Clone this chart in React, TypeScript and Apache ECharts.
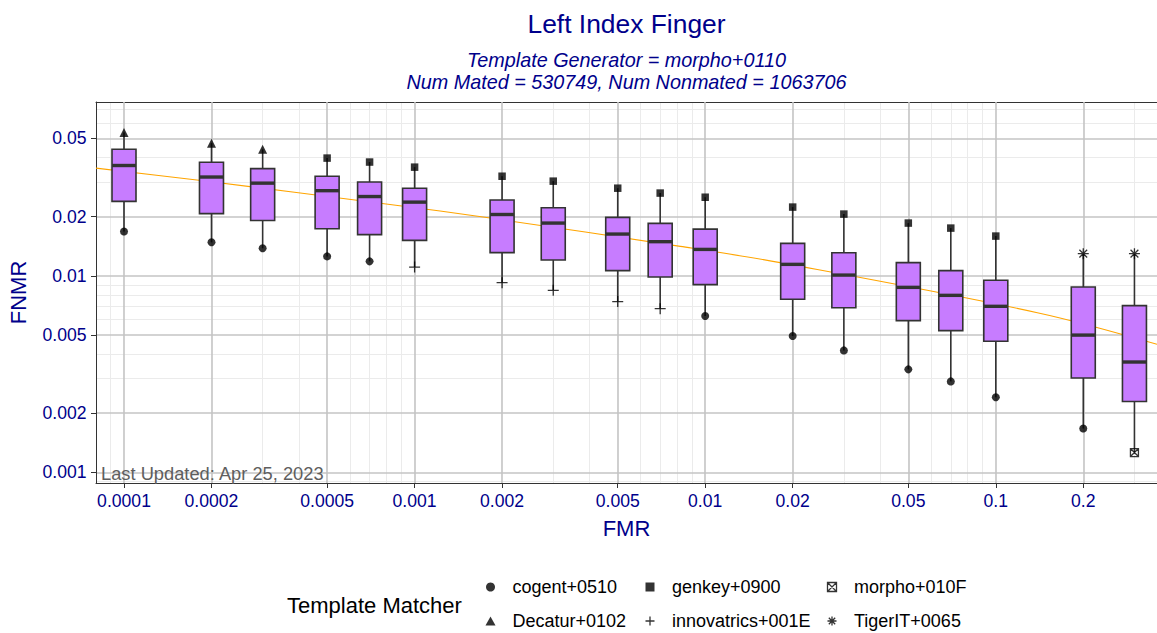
import React, { useEffect, useRef } from 'react';
import * as echarts from 'echarts';

// ---------------- data ----------------
const fmrValues = [0.0001, 0.0002, 0.0003, 0.0005, 0.0007, 0.001, 0.002, 0.003, 0.005, 0.007, 0.01, 0.02, 0.03, 0.05, 0.07, 0.1, 0.2, 0.3];
const fnmrMin = [0.0168, 0.0148, 0.0138, 0.01255, 0.01184, 0.01107, 0.00922, 0.00843, 0.00739, 0.0068, 0.00624, 0.00494, 0.00417, 0.00334, 0.0029, 0.00241, 0.00167, 0.00126];
const fnmrQ1 = [0.0239, 0.0207, 0.0191, 0.01736, 0.0162, 0.01514, 0.01311, 0.01202, 0.01062, 0.00985, 0.00901, 0.00759, 0.00688, 0.00591, 0.00526, 0.00464, 0.00302, 0.00229];
const fnmrMedian = [0.0364, 0.0318, 0.0296, 0.0271, 0.0253, 0.0237, 0.0205, 0.01854, 0.0163, 0.01491, 0.01362, 0.01143, 0.01008, 0.00873, 0.00795, 0.00699, 0.00499, 0.00364];
const fnmrQ3 = [0.044, 0.0378, 0.0351, 0.0321, 0.03, 0.0279, 0.0243, 0.0222, 0.01982, 0.01847, 0.01728, 0.01462, 0.0131, 0.01166, 0.01062, 0.00948, 0.00876, 0.00705];
const fnmrMax = [0.0536, 0.0473, 0.044, 0.0397, 0.0379, 0.0357, 0.0321, 0.0303, 0.0279, 0.02635, 0.0251, 0.02236, 0.0206, 0.01854, 0.01748, 0.01592, 0.01296, 0.01296];

const maxMatcher = [
  'Decatur+0102', 'Decatur+0102', 'Decatur+0102',
  'genkey+0900', 'genkey+0900', 'genkey+0900', 'genkey+0900', 'genkey+0900', 'genkey+0900', 'genkey+0900',
  'genkey+0900', 'genkey+0900', 'genkey+0900', 'genkey+0900', 'genkey+0900', 'genkey+0900',
  'TigerIT+0065', 'TigerIT+0065',
];
const minMatcher = [
  'cogent+0510', 'cogent+0510', 'cogent+0510', 'cogent+0510', 'cogent+0510',
  'innovatrics+001E', 'innovatrics+001E', 'innovatrics+001E', 'innovatrics+001E', 'innovatrics+001E',
  'cogent+0510', 'cogent+0510', 'cogent+0510', 'cogent+0510', 'cogent+0510', 'cogent+0510', 'cogent+0510',
  'morpho+010F',
];
const matchers = ['cogent+0510', 'Decatur+0102', 'genkey+0900', 'innovatrics+001E', 'morpho+010F', 'TigerIT+0065'];
const legendColumns = [
  ['cogent+0510', 'Decatur+0102'],
  ['genkey+0900', 'innovatrics+001E'],
  ['morpho+010F', 'TigerIT+0065'],
];

const trendFmr = [0.0000801, 0.000181, 0.000823, 0.00182, 0.00821, 0.0181, 0.139, 0.3587];
const trendFnmr = [0.0353, 0.0306, 0.02307, 0.01966, 0.01411, 0.01166, 0.00649, 0.00448];

const xTickValues = [0.0001, 0.0002, 0.0005, 0.001, 0.002, 0.005, 0.01, 0.02, 0.05, 0.1, 0.2];
const xTickLabels = ['0.0001', '0.0002', '0.0005', '0.001', '0.002', '0.005', '0.01', '0.02', '0.05', '0.1', '0.2'];
const xMinorValues = [0.00008, 0.00009, 0.0003, 0.0004, 0.0006, 0.0007, 0.0008, 0.0009, 0.003, 0.004, 0.006, 0.007, 0.008, 0.009, 0.03, 0.04, 0.06, 0.07, 0.08, 0.09, 0.3];
const yTickValues = [0.001, 0.002, 0.005, 0.01, 0.02, 0.05];
const yTickLabels = ['0.001', '0.002', '0.005', '0.01', '0.02', '0.05'];
const yMinorValues = [0.0009, 0.003, 0.004, 0.006, 0.007, 0.008, 0.009, 0.03, 0.04, 0.06, 0.07];

const xLimits = [0.0000801, 0.3587];
const yLimits = [0.000882, 0.0766];

// ---------------- styles ----------------
const FONT = '"Liberation Sans", Arial, Helvetica, sans-serif';
const NAVY = '#00008B';
const PLUS = 'path://M0,5L10,5M5,0L5,10';
const AST = 'path://M0,5L10,5M5,0L5,10M1.46,1.46L8.54,8.54M8.54,1.46L1.46,8.54';
const SQX = 'path://M0,0L10,0L10,10L0,10ZM0,0L10,10M10,0L0,10';
const TRI = 'path://M5,0L10,9L0,9Z';
const SQ = 'path://M0,0L10,0L10,10L0,10Z';
const SYMBOLS: Record<string, { symbol: string; icon: string; size: number; filled: boolean }> = {
  'cogent+0510': { symbol: 'circle', icon: 'circle', size: 8, filled: true },
  'Decatur+0102': { symbol: 'triangle', icon: TRI, size: 9, filled: true },
  'genkey+0900': { symbol: 'rect', icon: SQ, size: 7.5, filled: true },
  'innovatrics+001E': { symbol: PLUS, icon: PLUS, size: 11, filled: false },
  'morpho+010F': { symbol: SQX, icon: SQX, size: 8, filled: false },
  'TigerIT+0065': { symbol: AST, icon: AST, size: 11, filled: false },
};
// icon centre x of each legend column; legend box starts at the icon's left edge
const legendIconCentres = [490, 650, 832];
const LEGEND_ICON = 9;
const STROKE_W = 1.3;

const lg = (v: number) => Math.log10(v);

function makeFormatter(vals: number[], labels: string[]) {
  const logs = vals.map(lg);
  return (v: number) => {
    const i = logs.findIndex((t) => Math.abs(t - v) < 1e-6);
    return i >= 0 ? labels[i] : '';
  };
}

function symbolStyle(m: string) {
  const s = SYMBOLS[m];
  return s.filled
    ? { color: '#000', borderWidth: 0 }
    : { color: 'rgba(0,0,0,0)', borderColor: '#000', borderWidth: STROKE_W };
}

export default function App() {
  const ref = useRef<HTMLDivElement>(null);

  useEffect(() => {
    if (!ref.current) return;
    const chart = echarts.init(ref.current, undefined, { renderer: 'svg' });

    const boxData = fmrValues.map((f, i) => [
      lg(f), lg(fnmrMin[i]), lg(fnmrQ1[i]), lg(fnmrMedian[i]), lg(fnmrQ3[i]), lg(fnmrMax[i]),
    ]);

    const scatterSeries = matchers.map((m) => {
      const pts: number[][] = [];
      fmrValues.forEach((f, i) => {
        if (maxMatcher[i] === m) pts.push([lg(f), lg(fnmrMax[i])]);
        if (minMatcher[i] === m) pts.push([lg(f), lg(fnmrMin[i])]);
      });
      return {
        type: 'scatter',
        name: m,
        xAxisIndex: 0,
        yAxisIndex: 0,
        z: 5,
        silent: true,
        symbol: SYMBOLS[m].symbol,
        symbolSize: SYMBOLS[m].size,
        itemStyle: symbolStyle(m),
        data: pts,
      };
    });

    const legends = legendColumns.map((col, ci) => {
      const anyStroke = col.some((m) => !SYMBOLS[m].filled);
      const halfExtent = LEGEND_ICON / 2 + (anyStroke ? STROKE_W / 2 : 0);
      return {
        orient: 'vertical',
        left: legendIconCentres[ci] - halfExtent,
        top: 577,
        padding: 0,
        itemWidth: 34,
        itemHeight: LEGEND_ICON,
        itemGap: 14,
        selectedMode: false,
        textStyle: { fontFamily: FONT, fontSize: 18, color: '#000', lineHeight: 20 },
        data: col.map((m) => ({ name: m, icon: SYMBOLS[m].icon, itemStyle: symbolStyle(m) })),
      };
    });

    const option: any = {
      animation: false,
      backgroundColor: '#fff',
      title: {
        text: 'Left Index Finger',
        subtext: 'Template Generator = morpho+0110\nNum Mated = 530749, Num Nonmated = 1063706',
        left: 626.5,
        textAlign: 'center',
        top: 9,
        padding: 0,
        itemGap: 10,
        textStyle: { fontFamily: FONT, fontSize: 26.4, fontWeight: 'normal', color: NAVY, lineHeight: 30 },
        subtextStyle: { fontFamily: FONT, fontSize: 19.8, fontStyle: 'italic', color: NAVY, lineHeight: 22.2 },
      },
      legend: legends,
      grid: { left: 96, top: 102, right: 0, height: 381, outerBoundsMode: 'none', containLabel: false },
      xAxis: [
        {
          type: 'value',
          min: lg(xLimits[0]),
          max: lg(xLimits[1]),
          position: 'bottom',
          z: 1,
          axisLine: { show: true, onZero: false, lineStyle: { color: '#333', width: 1 } },
          axisTick: { show: true, customValues: xTickValues.map(lg), length: 5, lineStyle: { color: '#333', width: 1 } },
          axisLabel: {
            show: true, customValues: xTickValues.map(lg), formatter: makeFormatter(xTickValues, xTickLabels),
            color: NAVY, fontSize: 17.6, fontFamily: FONT, margin: 8, lineHeight: 20,
          },
          splitLine: { show: true, lineStyle: { color: '#C4C4C4', width: 1.6 } },
          name: 'FMR',
          nameLocation: 'middle',
          nameGap: 28,
          nameTextStyle: { fontFamily: FONT, fontSize: 22, color: NAVY, lineHeight: 26 },
        },
        {
          type: 'value',
          min: lg(xLimits[0]),
          max: lg(xLimits[1]),
          position: 'top',
          z: 0,
          axisLine: { show: true, onZero: false, lineStyle: { color: '#333', width: 1 } },
          axisTick: { show: false, customValues: xMinorValues.map(lg) },
          axisLabel: { show: false },
          splitLine: { show: true, lineStyle: { color: '#EBEBEB', width: 1 } },
        },
      ],
      yAxis: [
        {
          type: 'value',
          min: lg(yLimits[0]),
          max: lg(yLimits[1]),
          position: 'left',
          z: 1,
          axisLine: { show: true, onZero: false, lineStyle: { color: '#333', width: 1 } },
          axisTick: { show: true, customValues: yTickValues.map(lg), length: 5, lineStyle: { color: '#333', width: 1 } },
          axisLabel: {
            show: true, customValues: yTickValues.map(lg), formatter: makeFormatter(yTickValues, yTickLabels),
            color: NAVY, fontSize: 17.6, fontFamily: FONT, margin: 9.5,
          },
          splitLine: { show: true, lineStyle: { color: '#C4C4C4', width: 1.6 } },
          name: 'FNMR',
          nameLocation: 'middle',
          nameGap: 60,
          nameTextStyle: { fontFamily: FONT, fontSize: 22, color: NAVY, lineHeight: 26 },
        },
        {
          type: 'value',
          min: lg(yLimits[0]),
          max: lg(yLimits[1]),
          position: 'right',
          z: 0,
          axisLine: { show: true, onZero: false, lineStyle: { color: '#333', width: 1 } },
          axisTick: { show: false, customValues: yMinorValues.map(lg) },
          axisLabel: { show: false },
          splitLine: { show: true, lineStyle: { color: '#EBEBEB', width: 1 } },
        },
      ],
      graphic: [
        {
          type: 'text', x: 101, y: 473, z: 100,
          style: { text: 'Last Updated: Apr 25, 2023', fill: '#5E5E5E', fontSize: 18.3, fontFamily: FONT, verticalAlign: 'middle', align: 'left' },
        },
        {
          type: 'text', x: 287, y: 605, z: 100,
          style: { text: 'Template Matcher', fill: '#000', fontSize: 22, fontFamily: FONT, verticalAlign: 'middle', align: 'left' },
        },
      ],
      series: [
        {
          type: 'line',
          name: 'trend',
          xAxisIndex: 0,
          yAxisIndex: 0,
          z: 1,
          silent: true,
          showSymbol: false,
          symbol: 'none',
          smooth: 0.35,
          clip: true,
          lineStyle: { color: '#FFA500', width: 1.1 },
          data: trendFmr.map((f, i) => [lg(f), lg(trendFnmr[i])]),
        },
        {
          type: 'custom',
          name: 'boxes',
          xAxisIndex: 0,
          yAxisIndex: 0,
          z: 3,
          silent: true,
          encode: { x: 0, y: [1, 2, 3, 4, 5] },
          data: boxData,
          renderItem: (params: any, api: any) => {
            const x = api.value(0);
            const pMin = api.coord([x, api.value(1)]);
            const pQ1 = api.coord([x, api.value(2)]);
            const pMed = api.coord([x, api.value(3)]);
            const pQ3 = api.coord([x, api.value(4)]);
            const pMax = api.coord([x, api.value(5)]);
            const half = 12;
            const stroke = '#333333';
            return {
              type: 'group',
              children: [
                { type: 'line', shape: { x1: pMin[0], y1: pMin[1], x2: pQ1[0], y2: pQ1[1] }, style: { stroke, lineWidth: 1.6 } },
                { type: 'line', shape: { x1: pQ3[0], y1: pQ3[1], x2: pMax[0], y2: pMax[1] }, style: { stroke, lineWidth: 1.6 } },
                {
                  type: 'rect',
                  shape: { x: pQ3[0] - half, y: pQ3[1], width: half * 2, height: pQ1[1] - pQ3[1] },
                  style: { fill: '#C77CFF', stroke, lineWidth: 1.6 },
                },
                { type: 'line', shape: { x1: pMed[0] - half, y1: pMed[1], x2: pMed[0] + half, y2: pMed[1] }, style: { stroke, lineWidth: 3.4 } },
              ],
            };
          },
        },
        ...scatterSeries,
      ],
    };

    chart.setOption(option);
    return () => chart.dispose();
  }, []);

  return <div ref={ref} style={{ position: 'fixed', left: 0, top: 0, width: 1157, height: 633 }} />;
}
